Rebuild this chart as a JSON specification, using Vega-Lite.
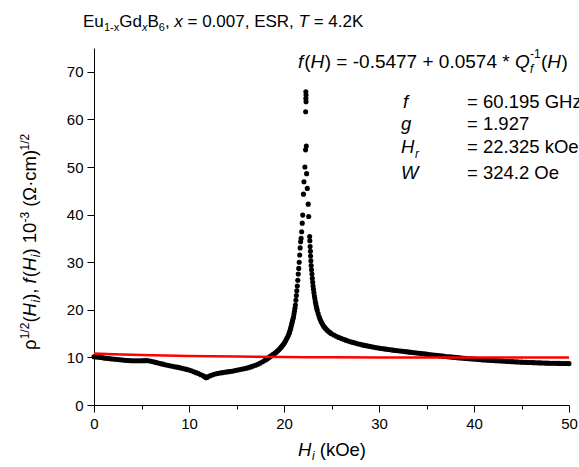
{
"$schema":"https://vega.github.io/schema/vega-lite/v6.json",
"width":475,"height":357,
"autosize":"none",
"padding":{"left":94,"top":48,"right":10,"bottom":62},
"background":"white",
"config":{"view":{"stroke":null},
 "text":{"font":"Liberation Sans","fontSize":18.5,"align":"left","baseline":"alphabetic","color":"black"},
 "axis":{"domainColor":"black","tickColor":"black","labelColor":"black","labelFont":"Liberation Sans","labelFontSize":15,"grid":false,"title":null,"domainWidth":1,"tickWidth":1,"labelOverlap":false,"labelFlush":false}},
"data":{"values":[{}]},
"datasets":{
"dots":[
{"H":0,"v":10.15},{"H":0.25,"v":10.1},{"H":0.5,"v":10.05},{"H":0.75,"v":9.98},{"H":1,"v":9.9},{"H":1.25,"v":9.83},{"H":1.5,"v":9.76},{"H":1.75,"v":9.7},{"H":2,"v":9.65},{"H":2.25,"v":9.6},{"H":2.5,"v":9.55},{"H":2.75,"v":9.5},{"H":3,"v":9.45},{"H":3.25,"v":9.4},{"H":3.5,"v":9.36},{"H":3.75,"v":9.33},{"H":4,"v":9.3},{"H":4.25,"v":9.3},{"H":4.5,"v":9.3},{"H":4.75,"v":9.3},{"H":5,"v":9.3},{"H":5.25,"v":9.32},{"H":5.5,"v":9.33},{"H":5.75,"v":9.3},{"H":6,"v":9.2},{"H":6.25,"v":9.08},{"H":6.5,"v":8.95},{"H":6.75,"v":8.82},{"H":7,"v":8.7},{"H":7.25,"v":8.58},{"H":7.5,"v":8.46},{"H":7.75,"v":8.35},{"H":8,"v":8.25},{"H":8.25,"v":8.15},{"H":8.5,"v":8.05},{"H":8.75,"v":7.95},{"H":9,"v":7.85},{"H":9.25,"v":7.73},{"H":9.5,"v":7.6},{"H":9.75,"v":7.48},{"H":10,"v":7.35},{"H":10.25,"v":7.18},{"H":10.5,"v":7.0},{"H":10.75,"v":6.8},{"H":11,"v":6.6},{"H":11.25,"v":6.36},{"H":11.5,"v":6.12},{"H":11.65,"v":5.95},{"H":11.8,"v":5.75},{"H":11.9,"v":5.85},{"H":12,"v":5.95},{"H":12.25,"v":6.17},{"H":12.5,"v":6.35},{"H":12.75,"v":6.5},{"H":13,"v":6.62},{"H":13.25,"v":6.72},{"H":13.5,"v":6.8},{"H":13.75,"v":6.88},{"H":14,"v":6.95},{"H":14.25,"v":7.02},{"H":14.5,"v":7.1},{"H":14.75,"v":7.2},{"H":15,"v":7.3},{"H":15.25,"v":7.4},{"H":15.5,"v":7.5},{"H":15.75,"v":7.6},{"H":16,"v":7.7},{"H":16.25,"v":7.85},{"H":16.5,"v":8.0},{"H":16.75,"v":8.17},{"H":17,"v":8.35},{"H":17.25,"v":8.56},{"H":17.5,"v":8.8},{"H":17.75,"v":9.08},{"H":18,"v":9.4},
{"H":18.1,"v":9.54},{"H":18.2,"v":9.68},{"H":18.3,"v":9.82},{"H":18.4,"v":9.96},{"H":18.5,"v":10.1},{"H":18.6,"v":10.24},{"H":18.7,"v":10.38},{"H":18.8,"v":10.52},{"H":18.9,"v":10.66},{"H":19.0,"v":10.8},{"H":19.1,"v":10.97},{"H":19.2,"v":11.14},{"H":19.3,"v":11.32},{"H":19.4,"v":11.5},{"H":19.5,"v":11.7},{"H":19.6,"v":11.92},{"H":19.7,"v":12.15},{"H":19.8,"v":12.4},{"H":19.9,"v":12.65},{"H":20.0,"v":12.9},{"H":20.1,"v":13.25},{"H":20.2,"v":13.6},{"H":20.3,"v":14.0},{"H":20.4,"v":14.4},{"H":20.5,"v":14.8},
{"H":20.55,"v":15.1},{"H":20.6,"v":15.4},{"H":20.65,"v":15.75},{"H":20.7,"v":16.1},{"H":20.75,"v":16.5},{"H":20.8,"v":16.9},{"H":20.85,"v":17.3},{"H":20.9,"v":17.7},{"H":20.95,"v":18.1},{"H":21.0,"v":18.5},{"H":21.05,"v":19.1},{"H":21.1,"v":19.7},{"H":21.15,"v":20.3},{"H":21.2,"v":21.0},{"H":21.25,"v":22.0},{"H":21.3,"v":23.0},{"H":21.35,"v":24.0},{"H":21.4,"v":25.0},{"H":21.45,"v":26.2},{"H":21.5,"v":27.5},{"H":21.55,"v":28.7},{"H":21.6,"v":30.0},{"H":21.65,"v":31.5},{"H":21.7,"v":33.0},
{"H":21.75,"v":34.3},{"H":21.8,"v":35.0},{"H":21.86,"v":36.4},{"H":21.92,"v":38.2},{"H":21.97,"v":39.9},{"H":22.05,"v":44.3},{"H":22.1,"v":46.9},{"H":22.2,"v":50.0},{"H":22.27,"v":53.6},{"H":22.35,"v":54.4},{"H":22.28,"v":61.6},{"H":22.32,"v":63.7},{"H":22.3,"v":64.4},{"H":22.32,"v":65.1},{"H":22.3,"v":65.8},{"H":22.38,"v":48.6},{"H":22.45,"v":45.5},{"H":22.55,"v":42.2},{"H":22.6,"v":39.6},{"H":22.7,"v":35.4},{"H":22.72,"v":34.5},
{"H":22.75,"v":33.3},{"H":22.78,"v":32.3},{"H":22.8,"v":31.3},{"H":22.83,"v":30.3},{"H":22.86,"v":29.3},{"H":22.9,"v":28.4},{"H":22.94,"v":27.5},{"H":22.98,"v":26.6},{"H":23.02,"v":25.8},{"H":23.06,"v":25.0},{"H":23.1,"v":24.3},{"H":23.15,"v":23.6},{"H":23.2,"v":22.9},{"H":23.25,"v":22.3},{"H":23.3,"v":21.7},{"H":23.35,"v":21.2},{"H":23.4,"v":20.7},{"H":23.45,"v":20.25},{"H":23.5,"v":19.85},{"H":23.6,"v":19.15},{"H":23.7,"v":18.55},{"H":23.8,"v":18.0},{"H":23.9,"v":17.55},{"H":24.0,"v":17.15},{"H":24.1,"v":16.8},{"H":24.2,"v":16.5},{"H":24.3,"v":16.25},{"H":24.4,"v":16.0},{"H":24.5,"v":15.8},{"H":24.6,"v":15.6},{"H":24.7,"v":15.43},{"H":24.8,"v":15.27},{"H":24.9,"v":15.12},{"H":25.0,"v":14.98},
{"H":25.25,"v":14.7},{"H":25.5,"v":14.45},{"H":25.75,"v":14.2},{"H":26.0,"v":14.0},{"H":26.25,"v":13.8},{"H":26.5,"v":13.62},{"H":26.75,"v":13.45},{"H":27.0,"v":13.3},{"H":27.25,"v":13.15},{"H":27.5,"v":13.0},{"H":27.75,"v":12.87},{"H":28.0,"v":12.75},{"H":28.25,"v":12.63},{"H":28.5,"v":12.52},{"H":28.75,"v":12.42},{"H":29.0,"v":12.32},{"H":29.25,"v":12.22},{"H":29.5,"v":12.12},{"H":29.75,"v":12.03},{"H":30.0,"v":11.95},{"H":30.25,"v":11.87},{"H":30.5,"v":11.8},{"H":30.75,"v":11.73},{"H":31.0,"v":11.66},{"H":31.25,"v":11.59},{"H":31.5,"v":11.52},{"H":31.75,"v":11.46},{"H":32.0,"v":11.4},{"H":32.25,"v":11.34},{"H":32.5,"v":11.28},{"H":32.75,"v":11.22},{"H":33.0,"v":11.16},{"H":33.25,"v":11.1},{"H":33.5,"v":11.04},{"H":33.75,"v":10.98},{"H":34.0,"v":10.92},{"H":34.25,"v":10.86},{"H":34.5,"v":10.8},{"H":34.75,"v":10.74},{"H":35.0,"v":10.68},{"H":35.25,"v":10.62},{"H":35.5,"v":10.56},{"H":35.75,"v":10.5},{"H":36.0,"v":10.44},{"H":36.25,"v":10.38},{"H":36.5,"v":10.32},{"H":36.75,"v":10.26},{"H":37.0,"v":10.2},{"H":37.25,"v":10.15},{"H":37.5,"v":10.1},{"H":37.75,"v":10.05},{"H":38.0,"v":10.0},{"H":38.25,"v":9.95},{"H":38.5,"v":9.9},{"H":38.75,"v":9.85},{"H":39.0,"v":9.8},{"H":39.25,"v":9.76},{"H":39.5,"v":9.72},{"H":39.75,"v":9.68},{"H":40.0,"v":9.64},{"H":40.25,"v":9.6},{"H":40.5,"v":9.56},{"H":40.75,"v":9.52},{"H":41.0,"v":9.48},{"H":41.25,"v":9.44},{"H":41.5,"v":9.41},{"H":41.75,"v":9.38},{"H":42.0,"v":9.35},{"H":42.25,"v":9.32},{"H":42.5,"v":9.29},{"H":42.75,"v":9.26},{"H":43.0,"v":9.23},{"H":43.25,"v":9.2},{"H":43.5,"v":9.17},{"H":43.75,"v":9.14},{"H":44.0,"v":9.11},{"H":44.25,"v":9.08},{"H":44.5,"v":9.05},{"H":44.75,"v":9.02},{"H":45.0,"v":9.0},{"H":45.25,"v":8.98},{"H":45.5,"v":8.96},{"H":45.75,"v":8.94},{"H":46.0,"v":8.92},{"H":46.25,"v":8.9},{"H":46.5,"v":8.88},{"H":46.75,"v":8.86},{"H":47.0,"v":8.84},{"H":47.25,"v":8.82},{"H":47.5,"v":8.8},{"H":47.75,"v":8.79},{"H":48.0,"v":8.78},{"H":48.25,"v":8.77},{"H":48.5,"v":8.76},{"H":48.75,"v":8.75},{"H":49.0,"v":8.74},{"H":49.25,"v":8.73},{"H":49.5,"v":8.72},{"H":49.75,"v":8.71},{"H":50.0,"v":8.7}
],
"fit":[{"H":0,"v":10.8},{"H":2,"v":10.65},{"H":5,"v":10.5},{"H":10,"v":10.3},{"H":15,"v":10.18},{"H":20,"v":10.1},{"H":22.3,"v":10.05},{"H":25,"v":10.02},{"H":30,"v":10.0},{"H":40,"v":9.98},{"H":50,"v":9.97}]
},
"layer":[
{"data":{"name":"dots"},"mark":{"type":"point","filled":true,"shape":"circle","size":26,"color":"black","opacity":1,"strokeWidth":0},
 "encoding":{
  "x":{"field":"H","type":"quantitative","scale":{"domain":[0,50],"nice":false,"zero":false},
   "axis":{"values":[0,5,10,15,20,25,30,35,40,45,50],"labelExpr":"datum.value % 10 === 0 ? datum.label : ''","tickSize":{"condition":{"test":"datum.value % 10 === 0","value":7},"value":4},"labelPadding":4}},
  "y":{"field":"v","type":"quantitative","scale":{"domain":[0,75],"nice":false,"zero":false},
   "axis":{"values":[0,5,10,15,20,25,30,35,40,45,50,55,60,65,70,75],"labelExpr":"datum.value % 10 === 0 ? datum.label : ''","tickSize":{"condition":{"test":"datum.value % 10 === 0","value":7},"value":4},"labelPadding":4}}}},
{"data":{"name":"fit"},"mark":{"type":"line","color":"#ff0000","strokeWidth":2.5},
 "encoding":{"x":{"field":"H","type":"quantitative"},"y":{"field":"v","type":"quantitative"}}},

{"mark":{"type":"text","fontSize":17},"encoding":{"x":{"datum":-1.158},"y":{"datum":79.41},"text":{"value":"Eu"}}},
{"mark":{"type":"text","fontSize":11},"encoding":{"x":{"datum":1.053},"y":{"datum":78.57},"text":{"value":"1-x"}}},
{"mark":{"type":"text","fontSize":17},"encoding":{"x":{"datum":2.663},"y":{"datum":79.41},"text":{"value":"Gd"}}},
{"mark":{"type":"text","fontSize":11,"fontStyle":"italic"},"encoding":{"x":{"datum":5.053},"y":{"datum":78.57},"text":{"value":"x"}}},
{"mark":{"type":"text","fontSize":17},"encoding":{"x":{"datum":5.632},"y":{"datum":79.41},"text":{"value":"B"}}},
{"mark":{"type":"text","fontSize":11},"encoding":{"x":{"datum":6.821},"y":{"datum":78.57},"text":{"value":"6"}}},
{"mark":{"type":"text","fontSize":17},"encoding":{"x":{"datum":7.463},"y":{"datum":79.41},"text":{"value":","}}},
{"mark":{"type":"text","fontSize":17,"fontStyle":"italic"},"encoding":{"x":{"datum":8.453},"y":{"datum":79.41},"text":{"value":"x"}}},
{"mark":{"type":"text","fontSize":17},"encoding":{"x":{"datum":9.842},"y":{"datum":79.41},"text":{"value":"= 0.007, ESR,"}}},
{"mark":{"type":"text","fontSize":17,"fontStyle":"italic"},"encoding":{"x":{"datum":21.53},"y":{"datum":79.41},"text":{"value":"T"}}},
{"mark":{"type":"text","fontSize":17},"encoding":{"x":{"datum":23.12},"y":{"datum":79.41},"text":{"value":"= 4.2K"}}},

{"mark":{"type":"text","fontStyle":"italic","fontSize":19},"encoding":{"x":{"datum":21.47},"y":{"datum":70.8},"text":{"value":"f"}}},
{"mark":{"type":"text","fontSize":19},"encoding":{"x":{"datum":22.14},"y":{"datum":70.8},"text":{"value":"("}}},
{"mark":{"type":"text","fontStyle":"italic","fontSize":19},"encoding":{"x":{"datum":22.8},"y":{"datum":70.8},"text":{"value":"H"}}},
{"mark":{"type":"text","fontSize":19},"encoding":{"x":{"datum":24.29},"y":{"datum":70.8},"text":{"value":") = -0.5477 + 0.0574 *"}}},
{"mark":{"type":"text","fontStyle":"italic","fontSize":19},"encoding":{"x":{"datum":44.32},"y":{"datum":70.8},"text":{"value":"Q"}}},
{"mark":{"type":"text","fontStyle":"italic","fontSize":12},"encoding":{"x":{"datum":45.89},"y":{"datum":69.8},"text":{"value":"f"}}},
{"mark":{"type":"text","fontSize":12},"encoding":{"x":{"datum":45.89},"y":{"datum":72.8},"text":{"value":"-1"}}},
{"mark":{"type":"text","fontSize":19},"encoding":{"x":{"datum":47.05},"y":{"datum":70.8},"text":{"value":"("}}},
{"mark":{"type":"text","fontStyle":"italic","fontSize":19},"encoding":{"x":{"datum":47.72},"y":{"datum":70.8},"text":{"value":"H"}}},
{"mark":{"type":"text","fontSize":19},"encoding":{"x":{"datum":49.21},"y":{"datum":70.8},"text":{"value":")"}}},

{"mark":{"type":"text","fontStyle":"italic"},"encoding":{"x":{"datum":32.53},"y":{"datum":62.5},"text":{"value":"f"}}},
{"mark":{"type":"text","fontStyle":"italic"},"encoding":{"x":{"datum":32.32},"y":{"datum":57.77},"text":{"value":"g"}}},
{"mark":{"type":"text","fontStyle":"italic"},"encoding":{"x":{"datum":32.32},"y":{"datum":52.94},"text":{"value":"H"}}},
{"mark":{"type":"text","fontStyle":"italic","fontSize":12},"encoding":{"x":{"datum":33.79},"y":{"datum":51.89},"text":{"value":"r"}}},
{"mark":{"type":"text","fontStyle":"italic"},"encoding":{"x":{"datum":32.32},"y":{"datum":47.58},"text":{"value":"W"}}},
{"mark":{"type":"text"},"encoding":{"x":{"datum":39.26},"y":{"datum":62.5},"text":{"value":"= 60.195 GHz"}}},
{"mark":{"type":"text"},"encoding":{"x":{"datum":39.26},"y":{"datum":57.77},"text":{"value":"= 1.927"}}},
{"mark":{"type":"text"},"encoding":{"x":{"datum":39.26},"y":{"datum":52.94},"text":{"value":"= 22.325 kOe"}}},
{"mark":{"type":"text"},"encoding":{"x":{"datum":39.26},"y":{"datum":47.58},"text":{"value":"= 324.2 Oe"}}},

{"mark":{"type":"text","fontStyle":"italic"},"encoding":{"x":{"datum":21.47},"y":{"datum":-10.71},"text":{"value":"H"}}},
{"mark":{"type":"text","fontStyle":"italic","fontSize":12},"encoding":{"x":{"datum":22.94},"y":{"datum":-11.55},"text":{"value":"i"}}},
{"mark":{"type":"text"},"encoding":{"x":{"datum":23.76},"y":{"datum":-10.71},"text":{"value":"(kOe)"}}},

{"mark":{"type":"text","angle":270},"encoding":{"x":{"datum":-6.105},"y":{"datum":11.55},"text":{"value":"ρ"}}},
{"mark":{"type":"text","angle":270,"fontSize":12},"encoding":{"x":{"datum":-6.842},"y":{"datum":13.8},"text":{"value":"1/2"}}},
{"mark":{"type":"text","angle":270},"encoding":{"x":{"datum":-6.105},"y":{"datum":17.31},"text":{"value":"("}}},
{"mark":{"type":"text","angle":270,"fontStyle":"italic"},"encoding":{"x":{"datum":-6.105},"y":{"datum":18.61},"text":{"value":"H"}}},
{"mark":{"type":"text","angle":270,"fontStyle":"italic","fontSize":12},"encoding":{"x":{"datum":-5.684},"y":{"datum":21.53},"text":{"value":"i"}}},
{"mark":{"type":"text","angle":270},"encoding":{"x":{"datum":-6.105},"y":{"datum":22.1},"text":{"value":"),"}}},
{"mark":{"type":"text","angle":270,"fontStyle":"italic"},"encoding":{"x":{"datum":-6.105},"y":{"datum":25.55},"text":{"value":"f"}}},
{"mark":{"type":"text","angle":270},"encoding":{"x":{"datum":-6.105},"y":{"datum":26.83},"text":{"value":"("}}},
{"mark":{"type":"text","angle":270,"fontStyle":"italic"},"encoding":{"x":{"datum":-6.105},"y":{"datum":28.13},"text":{"value":"H"}}},
{"mark":{"type":"text","angle":270,"fontStyle":"italic","fontSize":12},"encoding":{"x":{"datum":-5.684},"y":{"datum":31.05},"text":{"value":"i"}}},
{"mark":{"type":"text","angle":270},"encoding":{"x":{"datum":-6.105},"y":{"datum":31.62},"text":{"value":")"}}},
{"mark":{"type":"text","angle":270},"encoding":{"x":{"datum":-6.105},"y":{"datum":33.99},"text":{"value":"10"}}},
{"mark":{"type":"text","angle":270,"fontSize":12},"encoding":{"x":{"datum":-6.842},"y":{"datum":38.32},"text":{"value":"-3"}}},
{"mark":{"type":"text","angle":270},"encoding":{"x":{"datum":-6.105},"y":{"datum":41.64},"text":{"value":"(Ω·cm)"}}},
{"mark":{"type":"text","angle":270,"fontSize":12},"encoding":{"x":{"datum":-6.842},"y":{"datum":53.47},"text":{"value":"1/2"}}}
]
}
